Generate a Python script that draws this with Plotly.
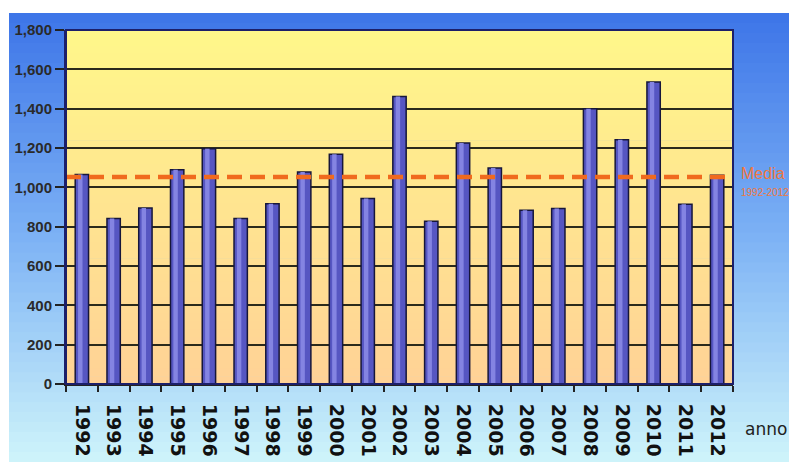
import plotly.graph_objects as go

# dati
anni = [str(a) for a in range(1992, 2013)]
valori = [1065, 841, 895, 1090, 1196, 841, 917, 1078, 1168, 943, 1462,
          827, 1225, 1098, 883, 892, 1400, 1242, 1535, 914, 1061]
media = 1052
y_ticks = [0, 200, 400, 600, 800, 1000, 1200, 1400, 1600, 1800]

W, H = 797, 468
OFF = 8  # margine del body nella pagina
# area del grafico nel riferimento (pixel)
PX0, PX1, PY0, PY1 = 66, 733, 30, 384
PW, PH = PX1 - PX0, PY1 - PY0
L, T = PX0 - OFF, PY0 - OFF
R, B = W - L - PW, H - T - PH


def py(pix):
    return (PY1 - pix) / PH


def px(pix):
    return (pix - PX0) / PW


def mix(c1, c2, t):
    return "rgb(%d,%d,%d)" % tuple(round(a + (b - a) * t) for a, b in zip(c1, c2))


shapes = []
# sfondo blu -> azzurro
n = 45
top, bot = 13, 462
for i in range(n):
    y0 = top + (bot - top) * i / n
    y1 = top + (bot - top) * (i + 1) / n + 1
    t = i / (n - 1)
    if t < 0.5:
        c = mix((62, 118, 232), (125, 178, 245), t / 0.5)
    else:
        c = mix((125, 178, 245), (205, 243, 250), (t - 0.5) / 0.5)
    shapes.append(dict(type="rect", xref="paper", yref="paper", layer="below",
                       x0=px(9), x1=px(820), y0=py(min(y1, bot)), y1=py(y0),
                       line_width=0, fillcolor=c))
# area del grafico giallo -> pesca
for i in range(n):
    shapes.append(dict(type="rect", xref="paper", yref="paper", layer="below",
                       x0=0, x1=1, y0=max(0, 1 - (i + 1) / n - 0.002), y1=1 - i / n,
                       line_width=0,
                       fillcolor=mix((255, 247, 138), (255, 210, 150), i / (n - 1))))
# linea della media
shapes.append(dict(type="line", xref="paper", yref="y", x0=0, x1=1,
                   y0=media, y1=media,
                   line=dict(color="#F06A1E", width=4.5, dash="15px,8px")))
# bordo
shapes.append(dict(type="rect", xref="paper", yref="paper", x0=0, x1=1, y0=0, y1=1,
                   line=dict(color="#1c1f6a", width=2)))

fig = go.Figure()
fig.add_trace(go.Bar(
    x=anni, y=valori, width=0.42, offset=-0.21,
    marker=dict(color="#5656C2", line=dict(color="#16163a", width=1.5)),
))
# riflesso cilindrico
fig.add_trace(go.Bar(
    x=anni, y=valori, width=0.14, offset=-0.12,
    marker=dict(color="#8484E2", line_width=0), hoverinfo="skip",
))

fig.update_layout(
    width=W, height=H,
    margin=dict(l=L, r=R, t=T, b=B, autoexpand=False),
    paper_bgcolor="white",
    plot_bgcolor="rgba(0,0,0,0)",
    showlegend=False,
    shapes=shapes,
    barmode="overlay",
    font=dict(family="Liberation Sans, Arial, sans-serif", color="#111"),
)
fig.update_xaxes(
    type="category", tickangle=90, showgrid=False, automargin=False,
    ticks="outside", ticklen=6, tickcolor="#222", tickwidth=1.5,
    tickson="boundaries", ticklabelstandoff=14,
    tickfont=dict(size=19, family="DejaVu Sans", color="#111", weight="bold"),
    showline=True, linecolor="#222", linewidth=2,
)
fig.update_yaxes(
    range=[0, 1800], tickvals=y_ticks, tickformat=",", automargin=False,
    showgrid=True, gridcolor="#2b2a1c", gridwidth=2,
    ticks="outside", ticklen=9, tickcolor="#222", tickwidth=1.5,
    tickfont=dict(size=15, color="#2a2a2a", weight="bold"),
    showline=True, linecolor="#1c1f6a", linewidth=2, zeroline=False,
)
fig.add_annotation(text="anno", xref="paper", yref="paper", xanchor="center",
                   x=px(766), y=py(441), showarrow=False,
                   font=dict(size=17, color="#222", family="DejaVu Sans"))
fig.add_annotation(text="Media", xref="paper", yref="paper", xanchor="left",
                   x=px(739), y=py(173), showarrow=False,
                   font=dict(size=16, color="#F07840"))
fig.add_annotation(text="1992-2012", xref="paper", yref="paper", xanchor="left",
                   x=px(739), y=py(192), showarrow=False,
                   font=dict(size=10, color="#F07840"))

fig.write_html("out.html")
